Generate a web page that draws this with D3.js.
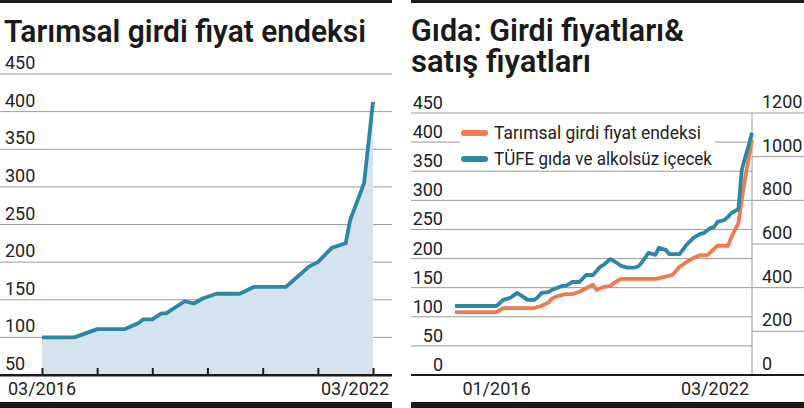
<!DOCTYPE html>
<html>
<head>
<meta charset="utf-8">
<script src="https://cdn.jsdelivr.net/npm/d3@7"></script>
<style>
  body { margin: 0; background: #fff; }
  text { font-family: Roboto, "Noto Sans", sans-serif; fill: #222; }
</style>
</head>
<body>
<div id="chart"></div>
<script>
// ---- data ----
// left panel: Tarımsal girdi fiyat endeksi
var leftDates = ["2016-03","2016-10","2017-03","2017-09","2017-12","2018-01","2018-03","2018-05",
  "2018-06","2018-10","2018-12","2019-02","2019-05","2019-10","2020-01","2020-08","2021-01",
  "2021-03","2021-06","2021-09","2021-10","2022-01","2022-03"];
var leftValues = [100,100,111,111,119,124,124,132,132,148,145,152,158,158,167,167,194,200,219,225,256,305,413];
var leftTicksY = [50,100,150,200,250,300,350,400,450];
var leftTicksX = ["2016-03","2017-03","2018-03","2019-03","2020-03","2021-03","2022-03"];

// right panel: orange series (left axis)
var inputDates = ["2015-01","2016-01","2016-03","2016-12","2017-02","2017-04","2017-05","2017-07",
  "2017-09","2017-11","2018-01","2018-03","2018-05","2018-06","2018-08","2018-10","2018-11",
  "2019-01","2019-09","2019-11","2020-02","2020-04","2020-06","2020-08","2020-10","2020-12",
  "2021-02","2021-03","2021-05","2021-08","2021-09","2021-11","2021-12","2022-01","2022-02","2022-03"];
var inputValues = [108,108,115,115,119,124,131,136,139,139,143,149,155,146,151,153,158,
  165,165,165,169,172,186,194,201,206,206,211,222,222,237,261,301,340,374,404];

// right panel: blue series (right axis)
var cpiDates = ["2015-01","2016-01","2016-03","2016-05","2016-07","2016-08","2016-10","2016-12",
  "2017-01","2017-02","2017-04","2017-05","2017-08","2017-09","2017-11","2018-01","2018-03",
  "2018-05","2018-07","2018-08","2018-10","2018-12","2019-01","2019-03","2019-05","2019-06",
  "2019-07","2019-09","2019-11","2019-12","2020-02","2020-03","2020-06","2020-08","2020-10",
  "2020-12","2021-01","2021-03","2021-04","2021-05","2021-07","2021-08","2021-09","2021-11",
  "2021-12","2022-01","2022-02","2022-03"];
var cpiValues = [316,316,344,353,376,366,344,344,357,376,380,389,408,408,426,426,458,
  458,495,504,531,512,500,492,492,497,513,559,550,582,573,554,554,596,628,
  646,650,673,678,701,710,724,742,760,939,999,1054,1110];

var rightTicksL = [0,50,100,150,200,250,300,350,400,450];
var rightTicksR = [0,200,400,600,800,1000,1200];
var legendLabels = ["Tarımsal girdi fiyat endeksi", "TÜFE gıda ve alkolsüz içecek"];

var orange = "#ee7a4f";
var blue = "#2b87a3";

var parse = d3.timeParse("%Y-%m");
var svg = d3.select("#chart").append("svg")
    .attr("width", 804)
    .attr("height", 408);

// ---------------- left panel ----------------
var xL = d3.scaleTime()
    .domain([parse("2016-03"), parse("2022-03")])
    .range([42, 373]);
var yL = d3.scaleLinear()
    .domain([50, 450])
    .range([375, 74]);

var left = svg.append("g");

left.append("rect").attr("x", 0).attr("y", 0).attr("width", 392).attr("height", 3).attr("fill", "#1a1a1a");
left.append("text")
    .attr("x", 4).attr("y", 42)
    .attr("font-size", 31).attr("font-weight", 600)
    .attr("textLength", 362).attr("lengthAdjust", "spacingAndGlyphs")
    .style("fill", "#1a1a1a")
    .text("Tarımsal girdi fiyat endeksi");

// gridlines and labels
left.selectAll(".grid").data(leftTicksY.slice(1)).enter()
  .append("line")
    .attr("x1", 0).attr("x2", 392)
    .attr("y1", function(d) { return yL(d); })
    .attr("y2", function(d) { return yL(d); })
    .attr("stroke", "#9a9a9a").attr("stroke-width", 1);
left.selectAll(".ylab").data(leftTicksY).enter()
  .append("text")
    .attr("x", 5)
    .attr("y", function(d) { return yL(d) - 5; })
    .attr("font-size", 18)
    .text(function(d) { return d; });

var leftData = leftDates.map(function(d, i) { return { date: parse(d), value: leftValues[i] }; });

left.append("path")
    .datum(leftData)
    .attr("fill", "#d5e3ee")
    .attr("d", d3.area()
      .x(function(d) { return xL(d.date); })
      .y0(yL(50))
      .y1(function(d) { return yL(d.value); }));

left.append("path")
    .datum(leftData)
    .attr("fill", "none")
    .attr("stroke", blue)
    .attr("stroke-width", 3.8)
    .attr("stroke-linejoin", "round")
    .attr("d", d3.line()
      .x(function(d) { return xL(d.date); })
      .y(function(d) { return yL(d.value); }));

// x axis: ticks pointing up
var leftAxis = left.append("g")
    .attr("transform", "translate(0," + yL(50) + ")")
    .call(d3.axisTop(xL).tickValues(leftTicksX.map(parse)).tickSize(7).tickFormat(""));
leftAxis.select(".domain").remove();
leftAxis.selectAll(".tick line").attr("stroke", "#1a1a1a").attr("stroke-width", 2);
left.append("rect").attr("x", 0).attr("y", yL(50) - 1).attr("width", 392).attr("height", 2.5).attr("fill", "#1a1a1a");

left.append("text").attr("x", xL(parse("2016-03"))).attr("y", 395)
    .attr("text-anchor", "middle").attr("font-size", 18).text("03/2016");
left.append("text").attr("x", 389).attr("y", 395)
    .attr("text-anchor", "end").attr("font-size", 18).text("03/2022");
left.append("rect").attr("x", 0).attr("y", 402).attr("width", 392).attr("height", 6).attr("fill", "#1a1a1a");

// ---------------- right panel ----------------
var xR = d3.scaleTime()
    .domain([parse("2015-01"), parse("2022-03")])
    .range([455, 752]);
var yR1 = d3.scaleLinear().domain([0, 450]).range([375, 113]);
var yR2 = d3.scaleLinear().domain([0, 1200]).range([375, 113]);

var right = svg.append("g");

right.append("rect").attr("x", 411).attr("y", 0).attr("width", 393).attr("height", 3).attr("fill", "#1a1a1a");
// two-line title in one text element
var rTitle = right.append("text")
    .attr("font-size", 31).attr("font-weight", 600)
    .style("fill", "#1a1a1a");
rTitle.append("tspan")
    .attr("x", 411).attr("y", 41)
    .attr("textLength", 273).attr("lengthAdjust", "spacingAndGlyphs")
    .text("Gıda: Girdi fiyatları&");
rTitle.append("tspan")
    .attr("x", 411).attr("y", 72)
    .attr("textLength", 180).attr("lengthAdjust", "spacingAndGlyphs")
    .text("satış fiyatları");

right.selectAll(".gridL").data(rightTicksL.slice(1)).enter()
  .append("line")
    .attr("x1", 411).attr("x2", 752)
    .attr("y1", function(d) { return yR1(d); })
    .attr("y2", function(d) { return yR1(d); })
    .attr("stroke", "#9a9a9a").attr("stroke-width", 1);
right.selectAll(".gridR").data(rightTicksR.slice(1)).enter()
  .append("line")
    .attr("x1", 752).attr("x2", 804)
    .attr("y1", function(d) { return yR2(d); })
    .attr("y2", function(d) { return yR2(d); })
    .attr("stroke", "#9a9a9a").attr("stroke-width", 1);
right.append("line")
    .attr("x1", 752).attr("x2", 752)
    .attr("y1", yR2(1200)).attr("y2", yR2(0))
    .attr("stroke", "#9a9a9a").attr("stroke-width", 1);

right.selectAll(".ylabL").data(rightTicksL).enter()
  .append("text")
    .attr("x", 443)
    .attr("y", function(d) { return yR1(d) - 4; })
    .attr("text-anchor", "end")
    .attr("font-size", 18)
    .text(function(d) { return d; });
right.selectAll(".ylabR").data(rightTicksR).enter()
  .append("text")
    .attr("x", 762)
    .attr("y", function(d) { return yR2(d) - 5; })
    .attr("font-size", 18)
    .text(function(d) { return d; });

// legend (white box masks the gridline)
right.append("rect").attr("x", 460).attr("y", 118).attr("width", 255).attr("height", 48).attr("fill", "#fff");
legendLabels.forEach(function(label, i) {
  var cy = 133 + i * 26;
  right.append("line")
      .attr("x1", 464).attr("x2", 485)
      .attr("y1", cy).attr("y2", cy)
      .attr("stroke", i === 0 ? orange : blue)
      .attr("stroke-width", 6)
      .attr("stroke-linecap", "round");
  right.append("text")
      .attr("x", 494).attr("y", cy + 6)
      .attr("font-size", 18.5)
      .attr("textLength", i === 0 ? 207 : 218).attr("lengthAdjust", "spacingAndGlyphs")
      .text(label);
});

var inputData = inputDates.map(function(d, i) { return { date: parse(d), value: inputValues[i] }; });
var cpiData = cpiDates.map(function(d, i) { return { date: parse(d), value: cpiValues[i] }; });

right.append("path")
    .datum(inputData)
    .attr("fill", "none")
    .attr("stroke", orange)
    .attr("stroke-width", 3.8)
    .attr("stroke-linejoin", "round")
    .attr("d", d3.line()
      .x(function(d) { return xR(d.date); })
      .y(function(d) { return yR1(d.value); }));

right.append("path")
    .datum(cpiData)
    .attr("fill", "none")
    .attr("stroke", blue)
    .attr("stroke-width", 3.8)
    .attr("stroke-linejoin", "round")
    .attr("d", d3.line()
      .x(function(d) { return xR(d.date); })
      .y(function(d) { return yR2(d.value); }));

right.append("rect").attr("x", 411).attr("y", yR1(0) - 1).attr("width", 393).attr("height", 2).attr("fill", "#1a1a1a");
right.append("text").attr("x", xR(parse("2016-01"))).attr("y", 395)
    .attr("text-anchor", "middle").attr("font-size", 18).text("01/2016");
right.append("text").attr("x", 749).attr("y", 395)
    .attr("text-anchor", "end").attr("font-size", 18).text("03/2022");
right.append("rect").attr("x", 411).attr("y", 402).attr("width", 393).attr("height", 6).attr("fill", "#1a1a1a");
</script>
</body>
</html>
